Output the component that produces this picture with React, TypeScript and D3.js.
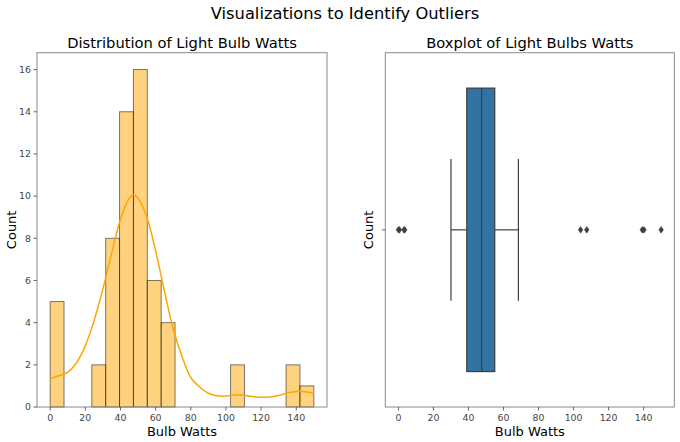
import React from 'react';
import * as d3 from 'd3';

// ---- Data ----
const binEdges = [0, 7.89, 15.79, 23.68, 31.58, 39.47, 47.37, 55.26, 63.16, 71.05, 78.95, 86.84, 94.74, 102.63, 110.53, 118.42, 126.32, 134.21, 142.11, 150];
const binCounts = [5, 0, 0, 2, 8, 14, 16, 6, 4, 0, 0, 0, 0, 2, 0, 0, 0, 2, 1];

const kdeWatts = [0, 5, 10, 15, 20, 25, 30, 35, 40, 45, 47.5, 50, 55, 60, 65, 70, 75, 80, 85, 90, 95, 100, 105, 110, 115, 120, 125, 130, 135, 140, 145, 150];
const kdeCounts = [1.35, 1.48, 1.65, 2.1, 2.9, 4.1, 5.6, 7.3, 8.9, 9.9, 10.05, 9.9, 9.0, 7.4, 5.5, 3.7, 2.4, 1.4, 0.95, 0.65, 0.53, 0.52, 0.57, 0.56, 0.5, 0.46, 0.47, 0.55, 0.67, 0.74, 0.72, 0.65];

const histYTicks = [0, 2, 4, 6, 8, 10, 12, 14, 16];
const xTicks = [0, 20, 40, 60, 80, 100, 120, 140];

const boxQ1 = 39;
const boxMedian = 47.5;
const boxQ3 = 55;
const whiskerLow = 30;
const whiskerHigh = 68.5;
const outliers = [0, 0.6, 3.2, 3.6, 104, 107.5, 139.2, 140.2, 150];

// ---- Layout ----
const W = 680, H = 442;
const FONT = 'DejaVu Sans, sans-serif';
const top = 52.7, bottom = 407;
const L = { x0: 37, x1: 327 };
const R = { x0: 385.3, x1: 674.3 };
const tickColor = '#444';
const spineColor = '#8a8a8a';

export default function App() {
  const xL = d3.scaleLinear().domain([-7.5, 157.5]).range([L.x0, L.x1]);
  const yL = d3.scaleLinear().domain([0, 16.8]).range([bottom, top]);
  const xR = d3.scaleLinear().domain([-7.5, 157.5]).range([R.x0, R.x1]);
  const yR = d3.scaleLinear().domain([0.5, -0.5]).range([bottom, top]);

  const kdeLine = d3.line<number>()
    .x((_, i) => xL(kdeWatts[i]))
    .y((d) => yL(d))
    .curve(d3.curveCatmullRom.alpha(0.5));

  const boxY0 = yR(-0.4), boxY1 = yR(0.4);
  const capY0 = yR(-0.2), capY1 = yR(0.2);
  const cy = yR(0);
  const edge = '#3f3f3f';

  const diamond = (x: number, y: number) => {
    const hw = 2.3, hh = 3.3;
    return `M${x},${y - hh}L${x + hw},${y}L${x},${y + hh}L${x - hw},${y}Z`;
  };

  return (
    <svg width={W} height={H} style={{ position: 'absolute', left: 0, top: 0, background: '#fff' }} fontFamily={FONT}>
      <rect x={0} y={0} width={W} height={H} fill="#fff" />
      <text x={345} y={18.5} textAnchor="middle" fontSize={16.3} fill="#000">Visualizations to Identify Outliers</text>

      {/* ---- Left: histogram ---- */}
      <text x={(L.x0 + L.x1) / 2} y={47.5} textAnchor="middle" fontSize={14.7} fill="#000">Distribution of Light Bulb Watts</text>
      {binCounts.map((c, i) => c > 0 ? (
        <rect key={i} x={xL(binEdges[i])} y={yL(c)} width={xL(binEdges[i + 1]) - xL(binEdges[i])} height={yL(0) - yL(c)}
          fill="#FFA500" fillOpacity={0.5} stroke="#000" strokeOpacity={0.5} strokeWidth={1} />
      ) : null)}
      <path d={kdeLine(kdeCounts) || ''} fill="none" stroke="#FFA500" strokeWidth={1.5} />
      <rect x={L.x0} y={top} width={L.x1 - L.x0} height={bottom - top} fill="none" stroke={spineColor} strokeWidth={1} />
      {histYTicks.map((t) => (
        <g key={t}>
          <line x1={L.x0 - 3.5} x2={L.x0} y1={yL(t)} y2={yL(t)} stroke={tickColor} strokeWidth={0.8} />
          <text x={L.x0 - 6} y={yL(t)} dy="0.35em" textAnchor="end" fontSize={9.4} fill={tickColor}>{t}</text>
        </g>
      ))}
      {xTicks.map((t) => (
        <g key={t}>
          <line x1={xL(t)} x2={xL(t)} y1={bottom} y2={bottom + 3.5} stroke={tickColor} strokeWidth={0.8} />
          <text x={xL(t)} y={bottom + 13.5} textAnchor="middle" fontSize={9.4} fill={tickColor}>{t}</text>
        </g>
      ))}
      <text x={(L.x0 + L.x1) / 2} y={435.5} textAnchor="middle" fontSize={13} fill="#000">Bulb Watts</text>
      <text transform={`translate(15.5,${(top + bottom) / 2}) rotate(-90)`} textAnchor="middle" fontSize={13} fill="#000">Count</text>

      {/* ---- Right: boxplot ---- */}
      <text x={(R.x0 + R.x1) / 2} y={47.5} textAnchor="middle" fontSize={14.7} fill="#000">Boxplot of Light Bulbs Watts</text>
      <line x1={xR(whiskerLow)} x2={xR(boxQ1)} y1={cy} y2={cy} stroke={edge} strokeWidth={1.2} />
      <line x1={xR(boxQ3)} x2={xR(whiskerHigh)} y1={cy} y2={cy} stroke={edge} strokeWidth={1.2} />
      <line x1={xR(whiskerLow)} x2={xR(whiskerLow)} y1={capY0} y2={capY1} stroke={edge} strokeWidth={1.2} />
      <line x1={xR(whiskerHigh)} x2={xR(whiskerHigh)} y1={capY0} y2={capY1} stroke={edge} strokeWidth={1.2} />
      <rect x={xR(boxQ1)} y={boxY0} width={xR(boxQ3) - xR(boxQ1)} height={boxY1 - boxY0} fill="#3274A1" stroke={edge} strokeWidth={1.2} />
      <line x1={xR(boxMedian)} x2={xR(boxMedian)} y1={boxY0} y2={boxY1} stroke={edge} strokeWidth={1.2} />
      {outliers.map((o, i) => (
        <path key={i} d={diamond(xR(o), cy)} fill={edge} stroke={edge} strokeWidth={0.5} />
      ))}
      <rect x={R.x0} y={top} width={R.x1 - R.x0} height={bottom - top} fill="none" stroke={spineColor} strokeWidth={1} />
      <line x1={R.x0 - 3.5} x2={R.x0} y1={cy} y2={cy} stroke={tickColor} strokeWidth={0.8} />
      {xTicks.map((t) => (
        <g key={t}>
          <line x1={xR(t)} x2={xR(t)} y1={bottom} y2={bottom + 3.5} stroke={tickColor} strokeWidth={0.8} />
          <text x={xR(t)} y={bottom + 13.5} textAnchor="middle" fontSize={9.4} fill={tickColor}>{t}</text>
        </g>
      ))}
      <text x={(R.x0 + R.x1) / 2} y={435.5} textAnchor="middle" fontSize={13} fill="#000">Bulb Watts</text>
      <text transform={`translate(372.5,${(top + bottom) / 2}) rotate(-90)`} textAnchor="middle" fontSize={13} fill="#000">Count</text>
    </svg>
  );
}
